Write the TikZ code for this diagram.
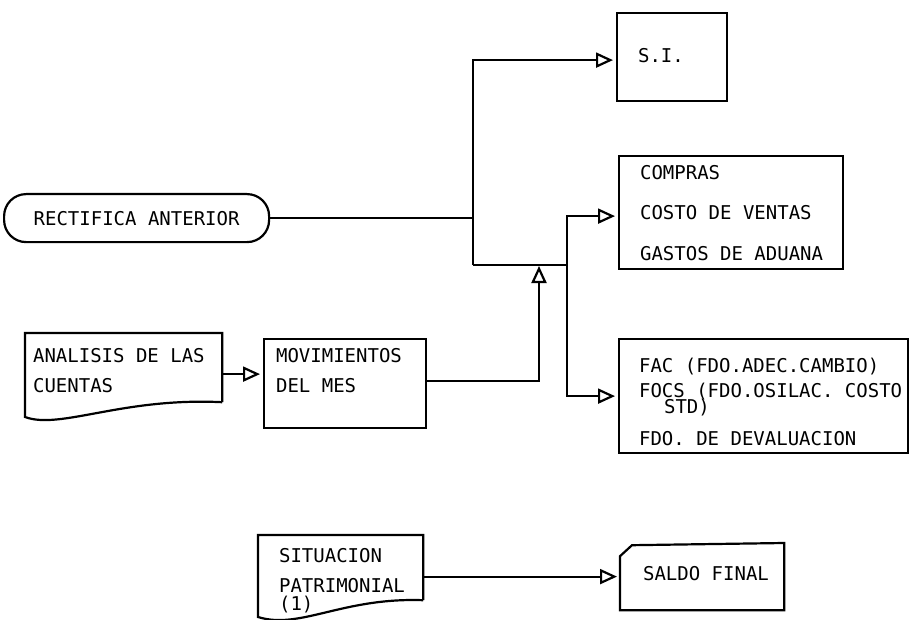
\documentclass[tikz,border=0pt]{standalone}
\usepackage{fontspec}
\setmonofont{DejaVu Sans Mono}
\usetikzlibrary{arrows.meta,calc}
\begin{document}
\begin{tikzpicture}[x=1pt,y=-1pt,line width=2.2pt,
  txt/.style={font=\ttfamily\fontsize{19}{19}\selectfont,inner sep=0pt,anchor=base west},
  box/.style={draw,rectangle,inner sep=0pt,anchor=north west},
  area/.style={rectangle,inner sep=0pt,anchor=north west},
  arr/.style={-{Triangle[open,length=17pt,width=15pt,line width=2.2pt]},shorten >=3pt}]
\useasboundingbox (0,0) rectangle (909,620);
% boxes
\node[draw,rounded corners=22pt,minimum width=265pt,minimum height=48pt,inner sep=0pt,
      anchor=north west,font=\ttfamily\fontsize{19}{19}\selectfont] (rect) at (3,193) {RECTIFICA ANTERIOR};
\node[box,minimum width=110pt,minimum height=88pt] (si) at (616,12) {};
\node[txt] (siT) at (637,63) {S.I.};
\node[box,minimum width=224pt,minimum height=113pt] (com) at (618,155) {};
\node[txt] (comA) at (639,180) {COMPRAS};
\node[txt] (comB) at (639,220) {COSTO DE VENTAS};
\node[txt] (comC) at (639,260) {GASTOS DE ADUANA};
\node[box,minimum width=289pt,minimum height=114pt] (fac) at (618,338) {};
\node[txt] (facA) at (638,372) {FAC (FDO.ADEC.CAMBIO)};
\node[txt] (facB) at (638,397) {FOCS (FDO.OSILAC. COSTO};
\node[txt] (facC) at (663,413) {STD)};
\node[txt] (facD) at (638,445) {FDO. DE DEVALUACION};
\node[box,minimum width=162pt,minimum height=89pt] (mov) at (263,338) {};
\node[txt] (movA) at (275,362) {MOVIMIENTOS};
\node[txt] (movB) at (275,392) {DEL MES};
% document shapes
\node[area,minimum width=195pt,minimum height=67pt] (ana) at (25,333) {};
\draw (ana.south east) -- (ana.north east) -- (ana.north west) -- ++(0,84)
  .. controls +(35,13) and +(-100,-5) .. (ana.south east);
\node[txt] (anaA) at (32,362) {ANALISIS DE LAS};
\node[txt] (anaB) at (32,392) {CUENTAS};
\node[area,minimum width=163pt,minimum height=63pt] (sit) at (258,535) {};
\draw (sit.south east) -- (sit.north east) -- (sit.north west) -- ++(0,82)
  .. controls +(42,13) and +(-81,-3) .. (sit.south east);
\node[txt] (sitA) at (278,562) {SITUACION};
\node[txt] (sitB) at (278,592) {PATRIMONIAL};
\node[txt] (sitC) at (278,610) {(1)};
\node[area,minimum width=162pt,minimum height=65pt] (saldo) at (620,543) {};
\draw (saldo.south west) -- ++(0,-54) -- ++(12,-11) -- (saldo.north east) -- (saldo.south east) -- cycle;
\node[txt] (saldoT) at (642,580) {SALDO FINAL};
% connectors
\coordinate (jb) at (473,265);
\coordinate (jc) at (567,265);
\coordinate (ja) at (539,265);
\draw (rect.east) -- (rect.east -| jb);
\draw (jb) -- (jc);
\draw[arr] (jb) |- ([yshift=-3pt]si.west);
\draw[arr] (jc) |- ([yshift=-3.5pt]com.west);
\draw[arr] (jc) |- (fac.west);
\draw[arr,shorten >=1pt] ([yshift=2.5pt]mov.east) -| (ja);
\draw[arr] ([yshift=-6.5pt]ana.east) -- ([yshift=-6.5pt]ana.east -| mov.west);
\draw[arr] (sit.east |- saldo.west) -- (saldo.west);
\end{tikzpicture}
\end{document}
